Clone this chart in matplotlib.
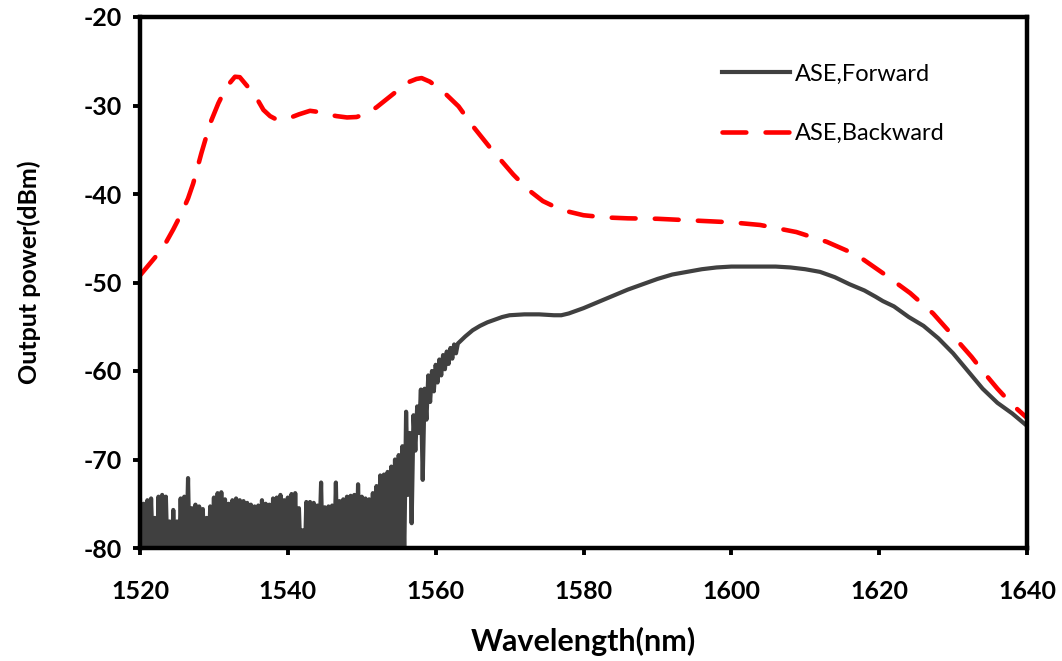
import numpy as np
import matplotlib
matplotlib.use("Agg")
import matplotlib.pyplot as plt

# ASE spectra (wavelength nm, power dBm)

# forward ASE, noisy low-power part: peaks at 1520, 1520.5 ... 1562.5 nm
fwd_noise_peaks = [
    -74.6, -75.0, -74.6, -74.4, -76.6, -74.2, -74.0, -74.2, -77.0, -75.7,
    -77.0, -74.4, -74.2, -72.1, -75.5, -75.1, -75.3, -75.6, -76.6, -75.3,
    -74.3, -73.8, -73.7, -74.5, -75.0, -74.6, -74.4, -74.6, -74.7, -74.9,
    -75.1, -75.3, -75.2, -74.6, -75.0, -75.1, -74.4, -74.3, -74.0, -74.6,
    -74.3, -73.9, -73.8, -75.5, -78.0, -74.8, -74.8, -74.9, -75.2, -72.6,
    -75.4, -75.3, -75.2, -72.6, -74.7, -74.5, -74.2, -74.1, -74.0, -72.8,
    -74.2, -74.4, -74.5, -73.8, -73.0, -71.8, -71.7, -71.4, -70.8, -70.0,
    -69.5, -68.5,
    -64.6, -67.0, -65.0, -64.0, -62.1, -62.0, -60.5, -60.0, -59.3, -58.7,
    -58.2, -57.8, -57.4, -57.0,
]
# dips in between: 1520.25, 1520.75 ... 1562.75 nm
fwd_noise_dips = [
    -82, -83, -82, -81, -84, -82, -83, -82, -84, -82,
    -83, -82, -81, -83, -82, -84, -82, -83, -82, -81,
    -83, -82, -84, -82, -83, -82, -81, -82, -83, -82,
    -84, -82, -83, -81, -82, -83, -82, -84, -82, -83,
    -82, -81, -81, -82, -83, -82, -81, -82, -79.8, -83,
    -82, -81, -82, -83, -82, -81, -79.8, -82, -83, -81,
    -82, -81, -83, -82, -81, -82, -83, -82, -81, -82,
    -81,
    -81, -74.0, -77.2, -69.0, -67.0, -72.3, -65.5, -63.5, -62.3, -61.3,
    -60.5, -59.8, -59.2, -58.6, -58.0,
]

# forward ASE, smooth part
fwd_wl = [1563, 1564, 1565, 1566, 1567, 1568, 1569, 1570, 1572, 1574,
          1576, 1577, 1578, 1579, 1580, 1582, 1584, 1586, 1588, 1590,
          1592, 1594, 1596, 1598, 1600, 1602, 1604, 1606, 1608, 1610,
          1612, 1614, 1616, 1618, 1619.5, 1620.5, 1622, 1624, 1626, 1628,
          1630, 1632, 1634, 1636, 1638, 1640]
fwd_db = [-56.9, -56.1, -55.4, -54.9, -54.5, -54.2, -53.9, -53.7, -53.6, -53.6,
          -53.7, -53.7, -53.5, -53.2, -52.9, -52.2, -51.5, -50.8, -50.2, -49.6,
          -49.1, -48.8, -48.5, -48.3, -48.2, -48.2, -48.2, -48.2, -48.3, -48.5,
          -48.8, -49.4, -50.2, -50.9, -51.6, -52.1, -52.7, -53.9, -54.9, -56.3,
          -58.0, -60.0, -62.0, -63.6, -64.8, -66.2]

# backward ASE
bwd_wl = [1520.0, 1521.0, 1522.0, 1523.2, 1524.5, 1525.6, 1526.5, 1527.2, 1528.3, 1529.5,
          1530.6, 1531.7, 1532.85, 1533.5, 1534.2, 1535.0, 1535.8, 1536.7, 1537.6, 1538.5,
          1540.1, 1541.5, 1543.0, 1543.9, 1545.3, 1546.6, 1548.0, 1549.3, 1550.7, 1552.0,
          1552.9, 1554.7, 1556.5, 1557.4, 1558.1, 1559.2, 1560.8, 1563.1, 1565.0, 1567.3,
          1570.5, 1572.5, 1574.5, 1577.0, 1580.0, 1583.0, 1586.0, 1590.0, 1595.0, 1600.0,
          1603.9, 1608.8, 1612.9, 1617.0, 1620.6, 1624.2, 1627.3, 1630.5, 1632.5, 1634.0,
          1636.0, 1638.0, 1640.0]
bwd_db = [-49.2, -48.2, -47.2, -45.95, -44.0, -42.2, -40.5, -38.8, -35.4, -32.0,
          -29.75, -27.9, -26.75, -26.8, -27.5, -28.3, -29.2, -30.5, -31.2, -31.6,
          -31.45, -31.0, -30.6, -30.7, -31.0, -31.2, -31.35, -31.3, -30.9, -30.2,
          -29.6, -28.4, -27.3, -27.0, -26.9, -27.3, -28.25, -30.1, -32.3, -34.7,
          -37.8, -39.5, -40.8, -41.8, -42.4, -42.65, -42.75, -42.8, -43.0, -43.2,
          -43.5, -44.3, -45.4, -46.9, -49.0, -51.2, -53.5, -56.5, -58.4, -60.0,
          -62.0, -63.8, -65.3]

x_ticks = [1520, 1540, 1560, 1580, 1600, 1620, 1640]
y_ticks = [-80, -70, -60, -50, -40, -30, -20]

# stitch the noisy part (peak/dip alternating, 0.25 nm grid) onto the smooth part
noise_wl = np.arange(len(fwd_noise_peaks) * 2) * 0.25 + 1520
noise_db = np.empty(len(noise_wl))
noise_db[0::2] = fwd_noise_peaks
noise_db[1::2] = fwd_noise_dips
forward_wl = np.concatenate([noise_wl, fwd_wl])
forward_db = np.concatenate([noise_db, fwd_db])

plt.rcParams["font.family"] = ["Lato", "DejaVu Sans"]
plt.rcParams["axes.unicode_minus"] = False

fig = plt.figure(figsize=(10.62, 6.61), dpi=100)
ax = fig.add_axes([140 / 1062, 1 - 548 / 661, 887 / 1062, 531 / 661])

ax.plot(forward_wl, forward_db, color="#404040", lw=3.0, label="ASE,Forward")
ax.plot(bwd_wl, bwd_db, color="#ff0000", lw=3.3, dashes=(5.2, 4.2),
        dash_capstyle="round", label="ASE,Backward")

ax.set_xlim(1520, 1640)
ax.set_ylim(-80, -20)
ax.set_xticks(x_ticks)
ax.set_yticks(y_ticks)
for sp in ax.spines.values():
    sp.set_linewidth(3.2)
ax.tick_params(direction="out", length=5, width=2.8, labelsize=18)
ax.tick_params(axis="x", pad=18)
ax.tick_params(axis="y", pad=8)
for lab in ax.get_xticklabels() + ax.get_yticklabels():
    lab.set_fontweight("bold")

ax.set_xlabel("Wavelength(nm)", fontsize=22, fontweight="bold")
ax.set_ylabel("Output power(dBm)", fontsize=18, fontweight="bold")
ax.xaxis.set_label_coords(0.5, -0.148)
ax.yaxis.set_label_coords(-0.112, 0.52)

ax.legend(loc="upper left", bbox_to_anchor=((722 - 140) / 887, 0.912),
          frameon=False, fontsize=17, handlelength=2.9, handletextpad=0.2,
          labelspacing=1.62, borderpad=0, borderaxespad=0)

fig.savefig("out.png", dpi=100)
